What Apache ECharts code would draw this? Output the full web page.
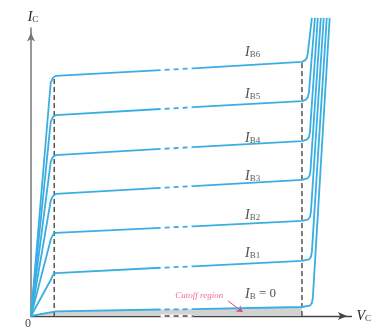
<!DOCTYPE html>
<html>
<head>
<meta charset="utf-8">
<script src="https://cdn.jsdelivr.net/npm/echarts@6/dist/echarts.min.js"></script>
<style>
body{margin:0;background:#fff;}
#main{width:374px;height:330px;}
</style>
</head>
<body>
<div id="main"></div>
<script>
// curve data, x = V_CE (V), y = I_C (mA)
var curveIB6=[[0,0],[1.23,6.48],[1.36,6.61],[1.54,6.67],[8.09,6.83],[10.12,6.88],[16.91,7.06],[17.10,7.10],[17.22,7.17],[17.28,7.31],[17.53,8.28]];
var curveIB5=[[0,0],[1.23,5.39],[1.36,5.52],[1.54,5.58],[8.09,5.75],[10.12,5.80],[16.91,5.97],[17.16,6.01],[17.28,6.08],[17.35,6.22],[17.72,8.28]];
var curveIB4=[[0,0],[1.23,4.28],[1.36,4.41],[1.54,4.47],[8.09,4.64],[10.12,4.69],[16.91,4.86],[17.22,4.90],[17.35,4.97],[17.41,5.11],[17.90,8.28]];
var curveIB3=[[0,0],[1.23,3.20],[1.36,3.33],[1.54,3.39],[8.09,3.56],[10.12,3.61],[16.91,3.78],[17.25,3.82],[17.38,3.89],[17.44,4.03],[18.09,8.28]];
var curveIB2=[[0,0],[1.23,2.12],[1.36,2.25],[1.54,2.31],[8.09,2.45],[10.12,2.49],[16.91,2.64],[17.28,2.68],[17.41,2.75],[17.47,2.89],[18.27,8.28]];
var curveIB1=[[0,0],[1.23,1.00],[1.36,1.13],[1.54,1.19],[8.09,1.34],[10.12,1.38],[16.91,1.53],[17.35,1.57],[17.47,1.64],[17.53,1.78],[18.46,8.28]];
var curveIB0=[[0,0],[1.54,0.13],[8.09,0.18],[10.12,0.19],[16.91,0.25],[17.41,0.29],[17.53,0.36],[17.59,0.50],[18.64,8.28]];
var curves=[curveIB6,curveIB5,curveIB4,curveIB3,curveIB2,curveIB1,curveIB0];

// curve labels
var labelSub=['B6','B5','B4','B3','B2','B1','B'];
var labelTail=['','','','','','',' = 0'];
var labelPos=[[13.33,7.33],[13.33,6.17],[13.33,4.94],[13.33,3.89],[13.33,2.81],[13.33,1.75],[13.33,0.61]];

// broken part of the axis and curves
var xBreak=[8.09,10.12];
// saturation / breakdown edges
var satLine=[[1.45,0],[1.45,6.61]];
var edgeLine=[[16.91,0],[16.91,7.06]];
// cutoff note
var cutoffText=[[10.5,0.56]];
var cutoffArrow=[[12.3,0.42],[13.21,0.11]];

var blue='#3aaee2';
var pink='#e8408a';

function part(pts,lo,hi){
    return pts.filter(function(p){return p[0]>=lo && p[0]<=hi;});
}

var series=[];

//cutoff shade under I_B = 0
series.push({
    type:'line',
    data:part(curveIB0,0,edgeLine[0][0]),
    symbol:'none',
    lineStyle:{width:0},
    areaStyle:{color:'#d2d2d2',opacity:1},
    z:1,
    silent:true
});

//dashed edges
series.push({type:'line',data:satLine,symbol:'none',lineStyle:{color:'#555',width:1.5,type:[5,3]},z:2,silent:true});
series.push({type:'line',data:edgeLine,symbol:'none',lineStyle:{color:'#555',width:1.5,type:[5,3]},z:2,silent:true});

//x axis break
series.push({type:'line',data:[[xBreak[0],0],[xBreak[1],0]],symbol:'none',clip:false,lineStyle:{color:'#fff',width:3},z:3,silent:true});
series.push({type:'line',data:[[xBreak[0],0],[xBreak[1],0]],symbol:'none',clip:false,lineStyle:{color:'#444',width:1.3,type:[5,4],dashOffset:5},z:4,silent:true});

//curves, each in three parts
curves.forEach(function(pts){
    var base={type:'line',symbol:'none',clip:false,z:5,silent:true,lineStyle:{color:blue,width:1.8}};
    series.push(Object.assign({},base,{data:part(pts,-1,xBreak[0])}));
    series.push(Object.assign({},base,{data:part(pts,xBreak[0],xBreak[1]),lineStyle:{color:blue,width:1.8,type:[5,4],dashOffset:5}}));
    series.push(Object.assign({},base,{data:part(pts,xBreak[1],99)}));
});

var serif='"Liberation Serif","DejaVu Serif",serif';
var rich={
    i:{fontFamily:serif,fontStyle:'italic',fontSize:14,color:'#222',lineHeight:16},
    s:{fontFamily:serif,fontSize:9,color:'#333',verticalAlign:'bottom',lineHeight:16,padding:[0,0,1,0]},
    e:{fontFamily:serif,fontSize:13,color:'#222',lineHeight:16}
};

//labels
series.push({
    type:'scatter',
    data:labelPos.map(function(p,i){return {value:p,sub:labelSub[i],tail:labelTail[i]};}),
    symbolSize:1,
    itemStyle:{color:'transparent'},
    z:6,
    silent:true,
    label:{
        show:true,
        position:'right',
        distance:0,
        formatter:function(p){
            var t='{i|I}{s|'+p.data.sub+'}';
            if(p.data.tail){t+='{e|'+p.data.tail+'}';}
            return t;
        },
        rich:rich
    }
});

//cutoff region note
series.push({
    type:'scatter',
    data:cutoffText,
    symbolSize:1,
    itemStyle:{color:'transparent'},
    z:6,
    silent:true,
    label:{
        show:true,
        position:'inside',
        formatter:'Cutoff region',
        fontFamily:serif,
        fontStyle:'italic',
        fontSize:9,
        color:pink
    },
    markLine:{
        silent:true,
        animation:false,
        symbol:['none','arrow'],
        symbolSize:6,
        label:{show:false},
        lineStyle:{color:pink,width:1,type:'solid'},
        data:[[{coord:cutoffArrow[0]},{coord:cutoffArrow[1]}]]
    }
});

var myChart=echarts.init(document.getElementById('main'));
var option={
    animation:false,
    backgroundColor:'#fff',
    grid:{left:31,right:19,top:28,bottom:14},
    xAxis:{
        type:'value',
        min:0,
        max:20,
        interval:20,
        name:'{i|V}{s|C}',
        nameLocation:'end',
        nameGap:5,
        nameTextStyle:{rich:rich},
        axisLine:{show:true,lineStyle:{color:'#444',width:1.3},symbol:['none','arrow'],symbolSize:[6,9],symbolOffset:[0,-4.5]},
        axisTick:{show:false},
        splitLine:{show:false},
        axisLabel:{
            margin:2,
            align:'right',
            fontFamily:serif,
            fontSize:12,
            color:'#444',
            formatter:function(v){return v===0?'0':'';}
        }
    },
    yAxis:{
        type:'value',
        min:0,
        max:8,
        name:'{i|I}{s|C}',
        nameLocation:'end',
        nameGap:3,
        nameTextStyle:{rich:rich,padding:[0,0,0,4]},
        axisLine:{show:true,lineStyle:{color:'#777',width:1.5},symbol:['none','arrow'],symbolSize:[6,9],symbolOffset:[0,-4.5]},
        axisTick:{show:false},
        splitLine:{show:false},
        axisLabel:{show:false}
    },
    series:series
};
myChart.setOption(option);
</script>
</body>
</html>
